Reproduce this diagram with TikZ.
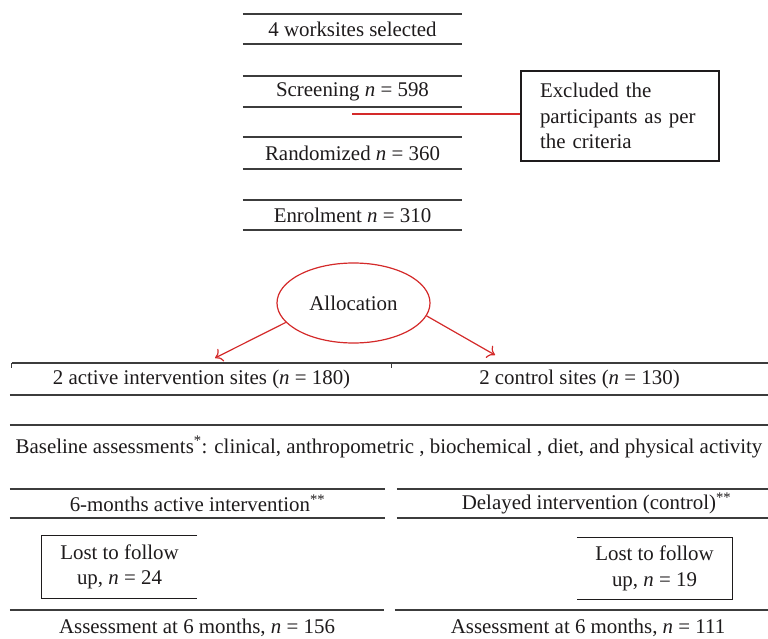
\documentclass[tikz,border=0pt]{standalone}
\usepackage{fontspec}
\setmainfont{Liberation Serif}
\usetikzlibrary{shapes.geometric,arrows.meta}
\definecolor{rl}{RGB}{212,42,42}
\definecolor{ink}{RGB}{30,27,28}
\definecolor{rulec}{RGB}{60,60,60}
\begin{document}
\begin{tikzpicture}[x=1pt,y=-1pt,
  txt/.style={font=\fontsize{20.9}{25.5}\selectfont, text=ink, inner sep=0pt, align=center},
  rule/.style={draw=rulec, line width=1.6pt},
  frame/.style={draw=ink, line width=1.2pt},
  redline/.style={draw=rl, line width=1.2pt},
  arr/.style={redline, -{To[length=7pt,width=14pt]}}
]
\useasboundingbox[fill=white] (0,0) rectangle (768,639);

% top column
\node[txt, minimum width=219pt, minimum height=30pt] (ws)  at (352.5,29)   {4 worksites selected};
\node[txt, minimum width=219pt, minimum height=31pt] (scr) at (352.5,91.5) {Screening \textit{n} = 598};
\node[txt, minimum width=219pt, minimum height=32pt] (rnd) at (352.5,153)  {Randomized \textit{n} = 360};
\node[txt, minimum width=219pt, minimum height=30pt] (enr) at (352.5,215)  {Enrolment \textit{n} = 310};
\foreach \n in {ws,scr,rnd,enr}
  \draw[rule] (\n.north west) -- (\n.north east) (\n.south west) -- (\n.south east);

% excluded
\node[txt, frame, align=left, text width=160pt, inner xsep=19pt, minimum width=194pt, minimum height=90pt] (excl) at (620,116)
  {Excluded the\\participants as per\\the criteria};
\coordinate (xs) at (352,114);
\draw[redline] (xs) -- (xs -| excl.west);

% allocation
\node[txt, ellipse, draw=rl, line width=1.2pt, minimum width=153pt, minimum height=80pt] (alloc) at (353.5,303) {Allocation};
\coordinate (a1) at (215,358);
\coordinate (a2) at (495,355);
\draw[arr] (alloc.196) -- (a1);
\draw[arr] (alloc.350) -- (a2);

% arms
\node[txt, minimum width=379pt, minimum height=32pt] (act) at (201.5,379) {2 active intervention sites (\textit{n} = 180)};
\node[txt, minimum width=377pt, minimum height=32pt] (ctl) at (579.5,379) {2 control sites (\textit{n} = 130)};
\draw[rule] (act.north west) -- (ctl.north east);
\draw[rule] ([xshift=-2pt]act.south west) -- (ctl.south east);
\foreach \p in {act.north west, act.north east, ctl.north east}
  \draw[draw=rulec, line width=1.2pt] (\p) -- ++(0,5);

% baseline
\node[txt, minimum width=758pt, minimum height=44pt] (base) at (389,447)
  {Baseline assessments\textsuperscript{*}: clinical, anthropometric , biochemical , diet, and physical activity};
\draw[rule] (base.north west) -- (base.north east);

% interventions
\node[txt, minimum width=375pt, minimum height=29pt] (six) at (197.5,503.5) {6-months active intervention\textsuperscript{**}};
\node[txt, minimum width=343pt, minimum height=29pt] (del) at (596.5,503.5) {Delayed intervention (control)\textsuperscript{**}};
\draw[rule] (six.north west) -- (six.north east) (six.south west) -- (six.south east);
\draw[rule] ([xshift=-28pt]del.north west) -- (del.north east) ([xshift=-28pt]del.south west) -- (del.south east);

% lost to follow up
\node[txt, minimum width=155pt, minimum height=62pt] (lost1) at (119.5,567) {Lost to follow\\up, \textit{n} = 24};
\node[txt, minimum width=155pt, minimum height=61pt] (lost2) at (654.5,568.5) {Lost to follow\\up, \textit{n} = 19};
\draw[frame] (lost1.north east) -- (lost1.north west) -- (lost1.south west) -- (lost1.south east);
\draw[frame] (lost2.north west) -- (lost2.north east) -- (lost2.south east) -- (lost2.south west);

% assessments
\node[txt, minimum width=374pt, minimum height=36pt] (ass1) at (197,628) {Assessment at 6 months, \textit{n} = 156};
\node[txt, minimum width=360pt, minimum height=36pt] (ass2) at (588,628) {Assessment at 6 months, \textit{n} = 111};
\draw[rule] (ass1.north west) -- (ass1.north east);
\draw[rule] ([xshift=-13pt]ass2.north west) -- (ass2.north east);
\end{tikzpicture}
\end{document}
